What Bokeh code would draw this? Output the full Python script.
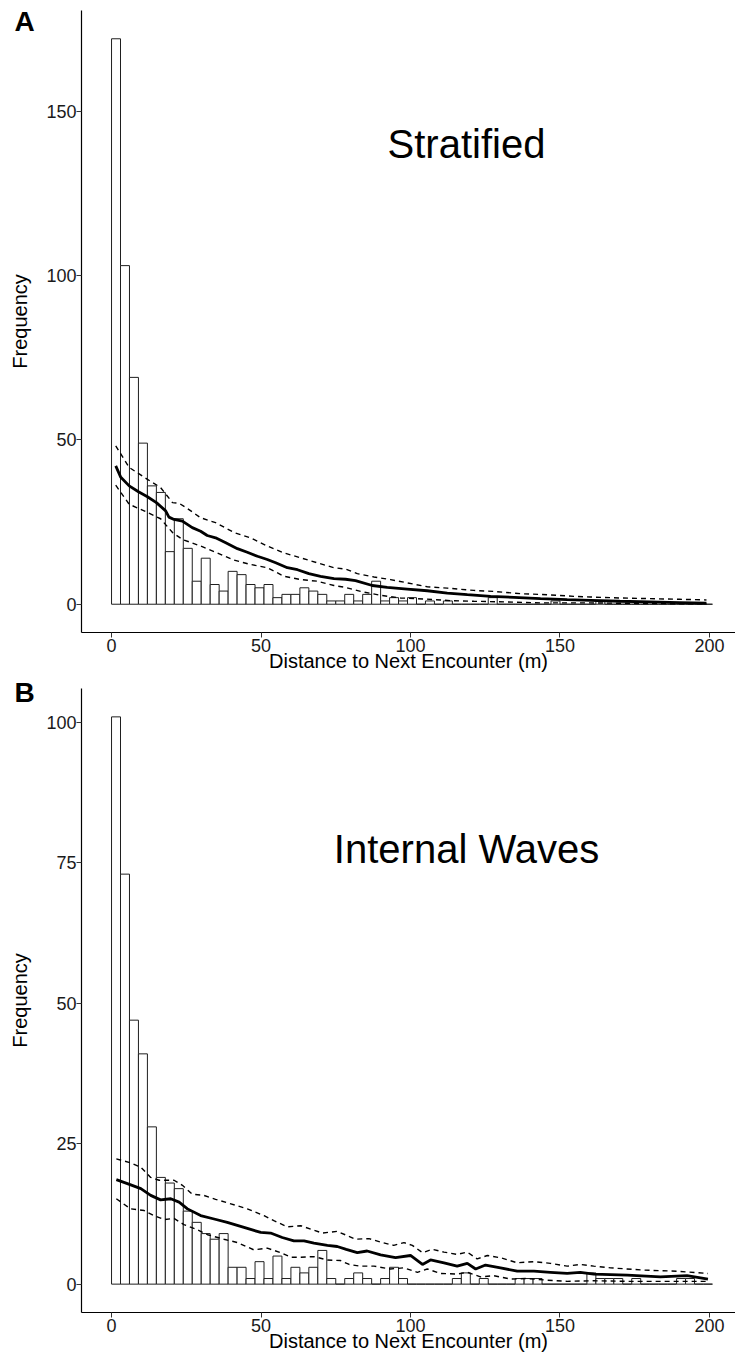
import numpy as np
from bokeh.plotting import figure
from bokeh.models import Range1d, Label, FixedTicker, ColumnDataSource
from bokeh.layouts import column
from bokeh.embed import file_html
from bokeh.resources import INLINE

FONT = "Liberation Sans"
BIN_WIDTH = 3

# ---------------- Panel A : Stratified ----------------
strat_counts = [172, 103, 69, 49, 36, 34, 16, 26, 17, 7, 14, 6, 4, 10, 9, 6, 5, 6, 2, 3,
                3, 5, 4, 3, 1, 1, 3, 1, 3, 7, 1, 2, 1, 2, 0, 1, 0, 1, 0, 0,
                0, 0, 2, 0, 0, 0, 0, 0, 0, 1, 0, 0, 0, 0, 1, 0, 0, 0, 0, 0,
                0, 0, 0, 0, 0, 0, 0]

strat_mean_x = [1.4, 3.1, 5.9, 9.0, 12.0, 15.0, 18.1, 19.2, 20.9, 23.7, 27.0, 29.8, 32.0, 34.8,
                38.2, 42.1, 45.4, 48.8, 52.1, 54.9, 58.8, 62.2, 66.0, 69.9, 74.4, 78.3, 81.6,
                87.2, 92.2, 98.9, 105.6, 112.3, 119.0, 126.8, 134.6, 143.5, 152.4, 160.2,
                170.0, 180.0, 190.0, 199.0]
strat_mean_y = [42.1, 38.6, 36.0, 34.2, 32.7, 30.9, 28.4, 26.5, 25.8, 25.3, 23.3, 22.2, 20.9, 20.2,
                18.7, 16.9, 15.8, 14.6, 13.6, 12.6, 11.1, 10.5, 9.3, 8.5, 7.8, 7.6, 7.2,
                5.7, 5.1, 4.6, 4.1, 3.4, 2.9, 2.4, 2.1, 1.7, 1.4, 1.2,
                0.9, 0.7, 0.5, 0.3]

strat_upper_x = [1.4, 5.9, 12.0, 16.4, 20.4, 22.6, 25.4, 29.8, 34.8, 41.0, 46.5, 52.1, 57.7, 63.3,
                 68.8, 74.4, 78.3, 82.2, 87.8, 93.3, 98.9, 105.6, 112.3, 121.2, 127.9, 136.8,
                 145.7, 154.6, 160.2, 170.0, 180.0, 190.0, 199.0]
strat_upper_y = [48.2, 41.6, 38.0, 35.5, 30.9, 30.7, 29.1, 26.3, 24.8, 21.8, 20.2, 17.7, 15.6, 14.1,
                 12.6, 11.1, 10.7, 9.3, 8.3, 7.5, 6.5, 5.3, 4.9, 4.2, 3.9, 3.2,
                 2.9, 2.4, 2.2, 1.9, 1.7, 1.5, 1.3]

strat_lower_x = [1.4, 5.9, 10.9, 16.4, 20.4, 23.7, 29.8, 35.4, 41.0, 46.5, 52.1, 57.7, 63.3, 68.8,
                 74.4, 78.3, 83.3, 90.0, 96.7, 104.5, 113.4, 121.2, 132.4, 143.5, 160.0, 180.0, 199.0]
strat_lower_y = [36.2, 30.4, 28.4, 26.0, 21.8, 19.7, 17.7, 15.6, 13.4, 12.1, 11.1, 8.5, 7.5, 7.0,
                 5.7, 5.1, 3.9, 2.7, 1.9, 1.6, 1.1, 0.9, 0.7, 0.4, 0.4, 0.2, 0.1]

# ---------------- Panel B : Internal Waves ----------------
waves_counts = [101, 73, 47, 41, 28, 19, 18, 17, 13, 11, 9, 8, 9, 3, 3, 1, 4, 1, 5, 1,
                3, 2, 3, 6, 1, 0, 1, 2, 1, 0, 1, 3, 1, 0, 0, 0, 0, 0, 1, 2,
                0, 1, 0, 0, 0, 1, 1, 1, 0, 0, 0, 0, 0, 2, 1, 1, 1, 0, 1, 0,
                0, 0, 0, 1, 1, 0, 0]

waves_mean_x = [1.6, 5.3, 9.8, 13.1, 16.4, 19.8, 22.6, 25.4, 29.8, 34.3, 38.7, 44.3, 49.9, 53.2,
                57.1, 61.0, 64.4, 67.7, 72.2, 75.5, 78.5, 82.2, 85.5, 90.0, 95.0, 100.0, 104.0,
                106.7, 111.2, 115.6, 119.0, 121.8, 125.1, 130.1, 135.7, 141.3, 146.8, 152.4,
                156.8, 161.3, 172.5, 183.6, 192.5, 199.5]
waves_mean_y = [18.6, 17.9, 17.0, 15.8, 15.0, 15.2, 14.6, 13.4, 12.2, 11.6, 11.0, 10.1, 9.2, 9.1,
                8.3, 7.7, 7.7, 7.3, 6.9, 6.7, 6.2, 5.6, 5.9, 5.2, 4.7, 5.1, 3.5,
                4.3, 3.8, 3.2, 3.7, 2.7, 3.4, 2.9, 2.3, 2.3, 2.1, 1.9,
                2.1, 1.8, 1.6, 1.3, 1.5, 0.9]

waves_upper_x = [1.6, 6.4, 9.8, 13.1, 15.9, 20.9, 23.7, 27.0, 30.9, 34.8, 39.9, 45.4, 51.0, 54.3,
                 58.8, 63.3, 66.6, 70.5, 75.5, 79.0, 81.6, 86.1, 90.6, 94.4, 97.8, 100.6, 104.0,
                 107.3, 111.2, 115.6, 119.0, 122.3, 125.7, 130.1, 135.7, 141.3, 146.8, 152.4,
                 156.8, 161.3, 166.9, 178.0, 189.2, 199.5]
waves_upper_y = [22.3, 21.6, 20.8, 19.0, 18.5, 18.5, 17.6, 16.0, 15.8, 15.1, 14.3, 13.4, 12.2, 11.3,
                 10.2, 10.4, 9.8, 9.1, 9.4, 8.6, 8.0, 8.1, 7.4, 6.9, 7.4, 6.9, 5.6,
                 6.2, 5.7, 5.3, 5.7, 4.5, 5.1, 4.7, 3.8, 4.0, 3.7, 3.2,
                 3.5, 3.2, 2.9, 2.5, 2.3, 1.9]

waves_lower_x = [1.6, 6.4, 10.9, 14.2, 17.6, 20.9, 24.2, 28.2, 32.1, 37.6, 42.1, 47.6, 52.1, 56.6,
                 59.9, 63.3, 67.7, 72.2, 76.6, 79.5, 83.3, 87.8, 93.3, 97.8, 102.3, 105.6, 110.1,
                 115.6, 119.0, 123.4, 127.9, 133.5, 139.0, 145.7, 152.4, 161.3, 172.5, 183.6, 199.5]
waves_lower_y = [15.2, 13.4, 13.1, 12.2, 11.5, 11.7, 10.6, 9.8, 8.8, 8.0, 7.4, 6.1, 6.4, 5.6,
                 4.8, 4.8, 4.9, 4.3, 4.2, 3.5, 3.2, 3.2, 2.7, 2.9, 2.1, 2.7, 1.9,
                 1.8, 2.1, 1.3, 1.5, 0.9, 1.0, 0.7, 0.5, 0.6, 0.5, 0.5, 0.5]

x_ticks = [0, 50, 100, 150, 200]
strat_y_ticks = [0, 50, 100, 150]
waves_y_ticks = [0, 25, 50, 75, 100]

# ---------------- layout constants (pixels) ----------------
CANVAS_W = 735
AXIS_X_PX = 81          # y axis line position
PX_PER_UNIT_X = 2.9896
X_LO, X_HI = -10.05, 211.05   # padded data extent of the x axis


def make_panel(counts, mx, my, ux, uy, lx, ly, yticks, name, letter,
               canvas_h, axis_top_px, axis_bottom_px, name_px, letter_px):
    counts = np.array(counts, dtype=float)
    left = np.arange(len(counts)) * BIN_WIDTH
    right = left + BIN_WIDTH
    m = counts.max()
    y_lo, y_hi = -0.05 * m, 1.05 * m
    sy = (axis_bottom_px - axis_top_px) / (y_hi - y_lo)
    y_start = y_lo - (canvas_h - axis_bottom_px) / sy
    y_end = y_lo + axis_bottom_px / sy
    x_start = X_LO - AXIS_X_PX / PX_PER_UNIT_X
    x_end = x_start + CANVAS_W / PX_PER_UNIT_X

    def dx(px):
        return x_start + px / PX_PER_UNIT_X

    def dy(py):
        return y_end - py / sy

    p = figure(frame_width=CANVAS_W, frame_height=canvas_h,
               x_range=Range1d(x_start, x_end), y_range=Range1d(y_start, y_end),
               output_backend="svg", toolbar_location=None,
               min_border_left=0, min_border_right=0, min_border_top=0, min_border_bottom=0)
    p.outline_line_color = None
    p.xgrid.visible = False
    p.ygrid.visible = False
    p.background_fill_color = "white"
    p.border_fill_color = "white"

    src = ColumnDataSource(dict(left=left, right=right, top=counts, bottom=np.zeros_like(counts)))
    p.quad(left="left", right="right", top="top", bottom="bottom", source=src,
           fill_color="white", line_color="#1f1f1f", line_width=1)

    p.line(ux, uy, line_color="black", line_width=1.4, line_dash="5 4")
    p.line(lx, ly, line_color="black", line_width=1.4, line_dash="5 4")
    p.line(mx, my, line_color="black", line_width=2.8)

    for ax in (p.xaxis[0], p.yaxis[0]):
        ax.axis_line_color = "black"
        ax.axis_line_width = 1.2
        ax.major_tick_line_color = "#333333"
        ax.major_tick_in = 0
        ax.major_tick_out = 5
        ax.minor_tick_line_color = None
        ax.major_label_text_font = FONT
        ax.major_label_text_font_size = "18px"
        ax.major_label_text_color = "#1a1a1a"
        ax.axis_label_text_font = FONT
        ax.axis_label_text_font_size = "20px"
        ax.axis_label_text_font_style = "normal"
        ax.axis_label_text_color = "black"

    p.xaxis.fixed_location = y_lo
    p.xaxis.bounds = (X_LO, x_end)
    p.yaxis.fixed_location = X_LO
    p.yaxis.bounds = (y_lo, y_hi)

    p.xaxis.ticker = FixedTicker(ticks=x_ticks)
    p.yaxis.ticker = FixedTicker(ticks=yticks)
    p.xaxis.axis_label = "Distance to Next Encounter (m)"
    p.yaxis.axis_label = "Frequency"
    p.xaxis.major_label_standoff = 1
    p.xaxis.axis_label_standoff = -5
    p.yaxis.major_label_standoff = 0
    p.yaxis.axis_label_standoff = 12

    p.add_layout(Label(x=dx(name_px[0]), y=dy(name_px[1]), text=name, text_font=FONT,
                       text_font_size="40px", text_align="center", text_baseline="middle",
                       text_color="black"))
    p.add_layout(Label(x=dx(letter_px[0]), y=dy(letter_px[1]), text=letter, text_font=FONT,
                       text_font_size="28px", text_font_style="bold", text_align="center",
                       text_baseline="middle", text_color="black"))
    return p


# panel A occupies page rows 0..675, panel B 675..1366
pA = make_panel(strat_counts, strat_mean_x, strat_mean_y, strat_upper_x, strat_upper_y,
                strat_lower_x, strat_lower_y, strat_y_ticks, "Stratified", "A",
                675, 10, 632, (466, 143), (24, 21))
pB = make_panel(waves_counts, waves_mean_x, waves_mean_y, waves_upper_x, waves_upper_y,
                waves_lower_x, waves_lower_y, waves_y_ticks, "Internal Waves", "B",
                691, 13, 637, (466, 173), (24, 17))

layout = column(pA, pB)
open("out.html", "w").write(file_html(layout, INLINE))
